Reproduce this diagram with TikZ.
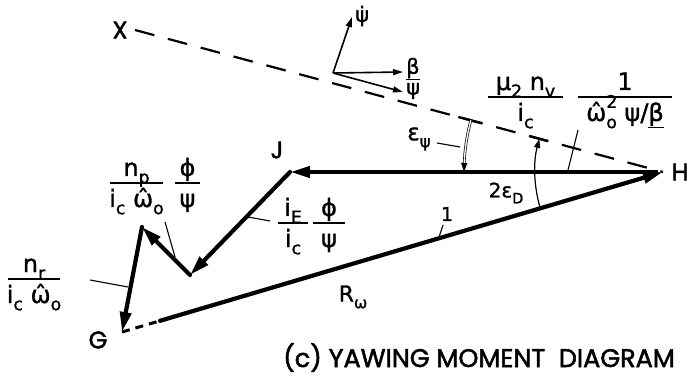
\documentclass[tikz,border=0pt]{standalone}
\usepackage{fontspec}
\usepackage{graphicx}
\setmainfont{DejaVu Sans}[FakeBold=1.2]
\newfontfamily\geo{Poppins}[FakeBold=2]
\usetikzlibrary{arrows.meta,calc}
\newcommand\sbs[1]{\raisebox{-0.3em}{\scalebox{0.72}{#1}}}
\newcommand\sps[1]{\raisebox{0.55em}{\scalebox{0.72}{#1}}}
\newcommand\sbsp[2]{\makebox[0pt][l]{\sps{#1}}\sbs{#2}}
\newcommand\Frac[6]{%
  \draw[fbar] ({#2-#4},#3) -- ({#2+#4},#3);
  \node[frt] (#1n) at (#2,#3+7) {#5};
  \node[frt] (#1d) at (#2,#3-24) {#6};
}
\begin{document}
\begin{tikzpicture}[x=1pt,y=1pt,
  vec/.style={line width=4.2pt,line cap=round,-{Triangle[length=20pt,width=11pt]}},
  smallvec/.style={line width=1.6pt,-{Triangle[length=10pt,width=6pt]}},
  lead/.style={line width=1.1pt},
  fbar/.style={line width=1.4pt},
  dashline/.style={line width=2.2pt,dash pattern=on 20pt off 14pt},
  gdash/.style={line width=3pt,dash pattern=on 8pt off 6pt},
  tick/.style={line width=2.4pt},
  ptlab/.style={font=\geo\fontsize{24}{27}\selectfont,inner sep=0pt},
  frt/.style={font=\fontsize{24}{26}\selectfont,inner sep=0pt,anchor=base},
  lab/.style={font=\fontsize{22}{24}\selectfont,inner sep=0pt},
  smlab/.style={font=\fontsize{21}{23}\selectfont,inner sep=0pt}
]
\useasboundingbox (0,0) rectangle (690,375);
% points
\coordinate (H) at (663,203);
\coordinate (J) at (290,203);
\coordinate (K) at (190,100);
\coordinate (L) at (142,148);
\coordinate (G) at (122,43);
\coordinate (P) at (160,54.2);
\coordinate (Xp) at (135,345);
\coordinate (O) at (333,302);
\coordinate (Pd) at (352,358);
\coordinate (B) at (403,303);
\coordinate (S) at (403,283);
% dashed reference line
\draw[dashline] (Xp) -- (H);
% vector polygon
\draw[vec,line cap=butt,shorten <=5pt] (H) -- (J);
\draw[vec] (J) -- (K);
\draw[vec] (K) -- (L);
\draw[vec] (L) -- (G);
\draw[gdash] (G) -- (P);
\draw[vec] (P) -- (H);
% small axes
\draw[smallvec] (O) -- (Pd);
\draw[smallvec] (O) -- (B);
\draw[smallvec] (O) -- (S);
\node[smlab,anchor=west] (lpd) at (355,359) {ψ̇};
\node[smlab,anchor=west] (lb) at (406,306) {\underline{β}};
\node[smlab,anchor=west] (ls) at (406,284) {ψ};
% point labels
\node[ptlab] (lX) at (120,345) {X};
\node[ptlab] (lH) at (680,203) {H};
\node[ptlab] (lJ) at (277,225) {J};
\node[ptlab] (lG) at (98,35) {G};
% angle arcs
\draw[tick] ($(H)+(164.95:188)$) -- ($(H)+(164.95:212)$);
\draw[line width=0.7pt,double,double distance=1.3pt] ($(H)+(164.95:199)$) arc[start angle=164.95,end angle=178,radius=199];
\draw[line width=0.8pt,-{Triangle[length=9pt,width=6pt]}] ($(H)+(177.5:199)$) -- ($(H)+(180:199)$);
\draw[tick] ($(H)+(164.95:119)$) -- ($(H)+(164.95:138)$);
\draw[line width=1.2pt,-{Triangle[length=9pt,width=6pt]}] ($(H)+(196.5:128)$) arc[start angle=196.5,end angle=165,radius=128];
\node[lab,font=\fontsize{23}{25}\selectfont] (leps) at (419,236) {ε\sbs{ψ}};
\draw[lead] (437,232) -- (460,228);
\node[lab,font=\fontsize{20}{22}\selectfont] (l2e) at (506,182) {2ε\sbs{D}};
\node[lab] (lR) at (353,78) {R\sbs{ω}};
\node[lab,font=\fontsize{19}{21}\selectfont] (l1) at (447,161) {1};
\draw[lead] (443,150) -- (439,138);
% fractions
\Frac{fnp}{136.5}{192}{26.5}{n\sbs{p}}{i\sbs{c} ω̂\sbs{o}}
\Frac{fpp}{187.5}{192}{12.5}{ϕ}{ψ}
\draw[lead] (165,153) -- (175,118);
\Frac{fnr}{34}{96}{26}{n\sbs{r}}{i\sbs{c} ω̂\sbs{o}}
\draw[lead] (90,95) -- (128,88);
\Frac{fie}{293}{152}{15}{i\sbs{E}}{i\sbs{c}}
\Frac{fpp2}{329}{152}{16}{ϕ}{ψ}
\draw[lead] (248,158) -- (270,154);
\Frac{fmu}{525.5}{278}{37.5}{μ\sbs{2} n\sbs{v}}{i\sbs{c}}
\Frac{fone}{625}{278}{47}{1}{ω̂\sbsp{2}{o} ψ/\underline{β}}
\draw[lead] (578,245) -- (568,205);
% caption
\node[font=\geo\fontsize{25.5}{28}\selectfont,inner sep=0pt,anchor=base] (cap) at (479,8) {(c) YAWING MOMENT\ \ DIAGRAM};
\end{tikzpicture}
\end{document}
